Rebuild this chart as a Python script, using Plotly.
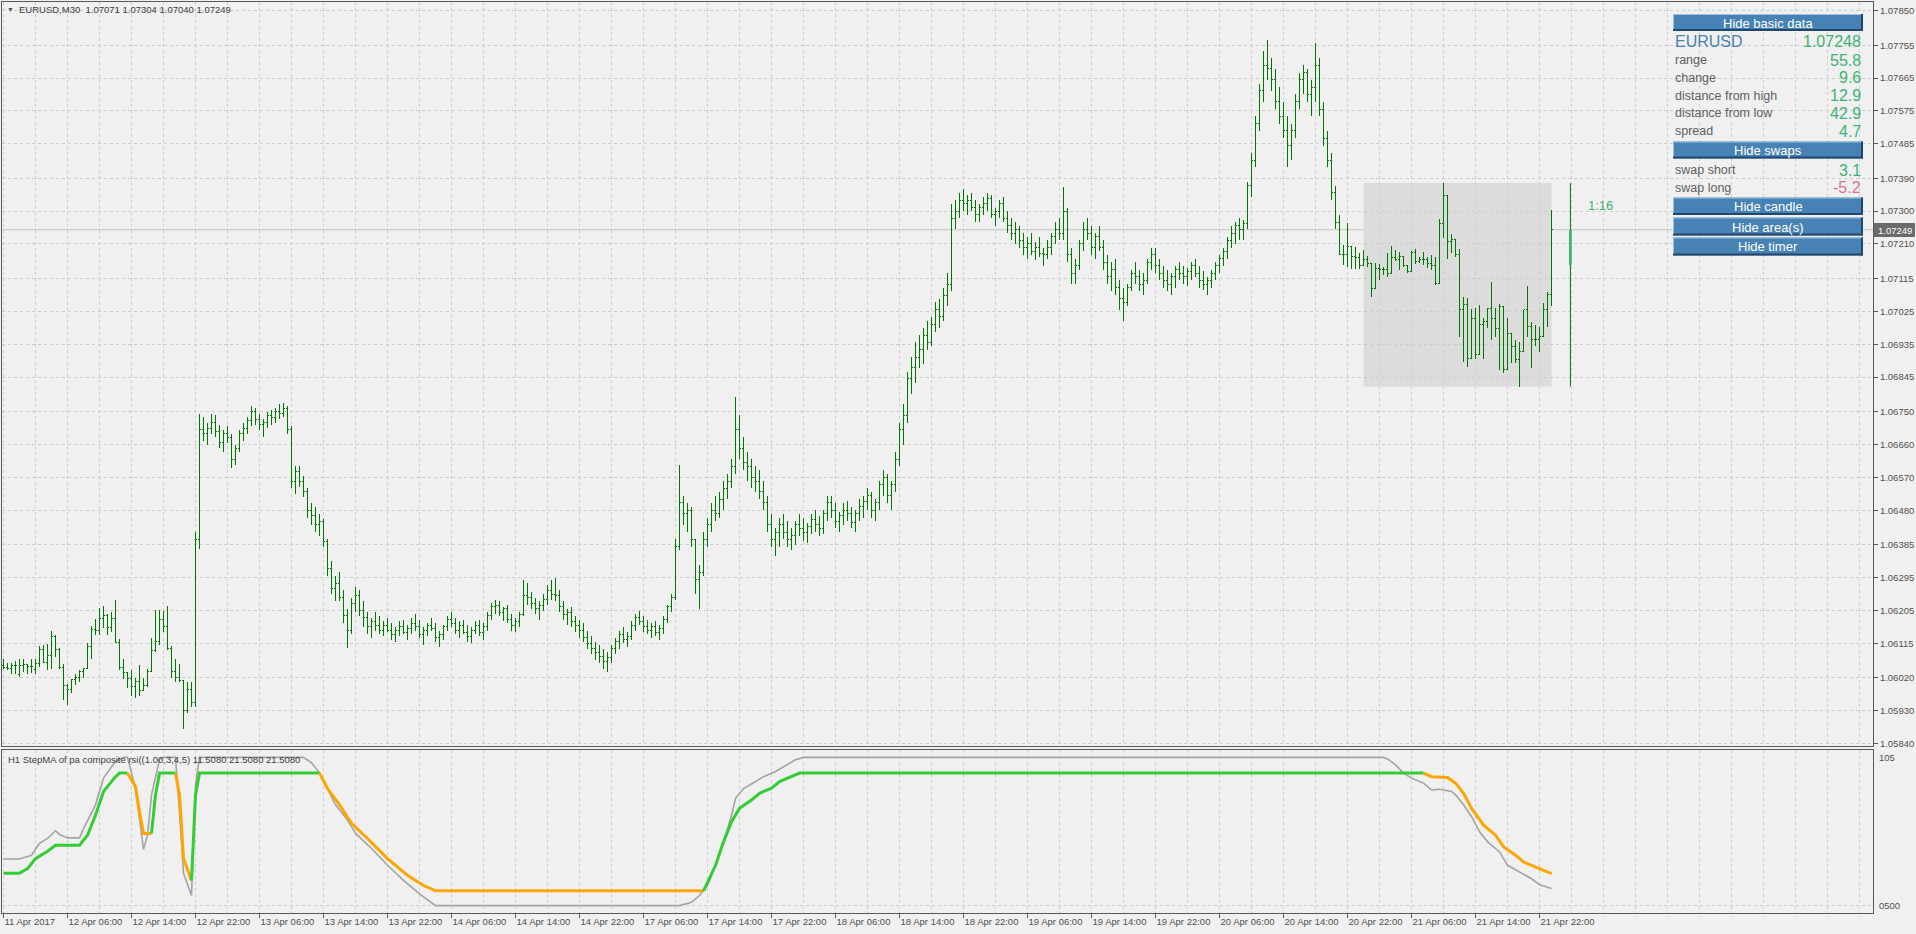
import plotly.graph_objects as go

# ---------------- data: EURUSD M30 bars, prices in points (0.00001) above 1.05000 ----------------
BASE = 1.05
PT = 0.00001

OPEN = [
    # 0-47
    1055,1048,1046,1054,1030,1055,1057,1051,1043,1060,1099,1062,1083,1135,1098,1048,1000,989,1016,1020,
    1039,1046,1105,1154,1149,1183,1191,1158,1183,1118,1049,1034,1019,996,1009,987,1000,1039,1094,1121,
    1181,1162,1101,1039,1020,1012,932,989,
    # 48-334
    953,1400,1700,1690,1705,1720,1695,1665,1690,1680,
    1620,1650,1690,1705,1725,1750,1730,1715,1720,1740,
    1735,1750,1745,1760,1700,1560,1585,1560,1530,1480,
    1465,1440,1450,1395,1320,1265,1280,1240,1190,1150,
    1225,1245,1205,1185,1160,1175,1165,1150,1165,1150,
    1140,1150,1160,1145,1155,1170,1160,1140,1150,1165,
    1155,1130,1140,1160,1180,1170,1150,1165,1145,1135,
    1150,1165,1145,1160,1190,1215,1220,1200,1210,1180,
    1165,1175,1195,1245,1240,1225,1210,1220,1235,1260,
    1250,1245,1215,1195,1200,1175,1165,1150,1130,1115,
    1100,1090,1080,1065,1075,1100,1120,1140,1125,1135,
    1165,1185,1175,1160,1150,1160,1145,1155,1180,1215,
    1240,1380,1500,1470,1480,1400,1290,1310,1400,1440,
    1480,1470,1510,1540,1560,1600,1700,1650,1610,1600,
    1570,1560,1530,1500,1440,1400,1420,1440,1420,1400,
    1410,1440,1430,1420,1435,1455,1440,1430,1470,1500,
    1480,1450,1465,1480,1470,1445,1470,1490,1505,1520,
    1480,1500,1550,1570,1520,1550,1620,1700,1740,1840,
    1870,1900,1920,1960,1940,1990,2030,2010,2070,2100,
    2280,2300,2330,2320,2330,2310,2290,2310,2320,2335,
    2290,2300,2320,2280,2260,2240,2250,2220,2200,2210,
    2190,2200,2185,2180,2200,2230,2250,2240,2300,2180,
    2130,2150,2210,2250,2240,2200,2230,2200,2160,2120,
    2140,2090,2060,2050,2090,2130,2120,2100,2110,2160,
    2180,2150,2130,2110,2100,2120,2140,2130,2120,2135,
    2150,2130,2110,2100,2110,2130,2150,2170,2190,2220,
    2240,2260,2250,2265,2370,2440,2540,2630,2700,2690,
    2660,2600,2560,2520,2480,2520,2600,2660,2680,2620,
    2640,2700,2580,2500,2440,2350,2270,
    # 335-387
    2180,2182,2203,2175,2173,2152,2168,2157,2088,2143,2139,2139,2130,2173,2168,2175,2150,2134,2186,2162,
    2168,2168,2157,2150,2102,2267,2342,2216,2221,2180,2031,2043,1897,2006,1906,1988,1997,2034,2006,1979,
    2038,1865,1965,1929,1892,1915,2029,1983,1947,1947,1956,2031,2071]

HIGH = [
    1073,1060,1062,1067,1072,1071,1058,1071,1072,1107,1110,1113,1148,1137,1101,1058,1004,1016,1032,1043,
    1048,1115,1162,1183,1211,1217,1195,1201,1235,1128,1072,1034,1041,1021,1055,1020,1046,1131,1206,1206,
    1203,1217,1107,1071,1058,1014,1008,1008,
    1420,1745,1735,1720,1745,1740,1715,1700,1710,1690,
    1660,1700,1720,1735,1765,1760,1745,1730,1750,1755,
    1760,1770,1775,1765,1710,1600,1600,1575,1540,1500,
    1490,1470,1455,1400,1340,1300,1310,1260,1210,1240,
    1270,1260,1230,1200,1185,1200,1190,1175,1185,1170,
    1160,1175,1180,1165,1185,1195,1180,1160,1170,1185,
    1170,1150,1165,1190,1200,1185,1175,1180,1165,1160,
    1175,1180,1170,1200,1225,1235,1230,1215,1220,1195,
    1185,1200,1290,1280,1255,1240,1230,1250,1275,1290,
    1295,1260,1230,1210,1215,1190,1180,1170,1150,1135,
    1120,1110,1100,1090,1110,1130,1150,1160,1145,1175,
    1195,1205,1190,1180,1170,1175,1165,1190,1220,1250,
    1400,1605,1520,1500,1490,1400,1330,1420,1460,1500,
    1520,1530,1560,1580,1620,1790,1740,1680,1640,1620,
    1600,1590,1560,1520,1470,1430,1460,1470,1450,1430,
    1450,1470,1460,1445,1470,1480,1465,1480,1520,1520,
    1500,1475,1500,1505,1490,1480,1510,1520,1540,1530,
    1510,1560,1590,1580,1560,1640,1720,1770,1860,1900,
    1940,1960,1980,2000,2010,2050,2060,2090,2130,2320,
    2330,2350,2360,2345,2350,2330,2320,2340,2350,2345,
    2310,2330,2340,2300,2280,2270,2260,2240,2230,2240,
    2215,2230,2200,2220,2240,2270,2280,2365,2310,2200,
    2170,2220,2270,2280,2260,2240,2260,2220,2180,2160,
    2170,2110,2090,2100,2140,2160,2140,2130,2170,2200,
    2200,2170,2150,2140,2130,2150,2160,2150,2145,2160,
    2170,2150,2135,2120,2140,2160,2180,2200,2230,2260,
    2270,2280,2275,2380,2460,2560,2650,2740,2770,2720,
    2690,2640,2600,2560,2540,2620,2680,2700,2690,2660,
    2760,2720,2600,2520,2460,2370,2290,
    2207,2267,2205,2203,2184,2194,2177,2157,2159,2154,2148,2184,2205,2194,2189,2175,2150,2191,2195,2175,
    2189,2175,2180,2175,2278,2377,2342,2237,2221,2195,2066,2063,2031,2035,2043,2006,2034,2107,2034,2046,
    2038,2006,1965,1947,1942,2029,2095,1997,1988,1983,2047,2079,2304]

LOW = [
    1046,1043,1032,1030,1023,1037,1032,1034,1032,1051,1062,1041,1046,1078,1046,961,946,979,1000,1009,
    1019,1046,1073,1137,1137,1158,1137,1147,1117,1043,1016,993,971,966,971,985,996,1037,1090,1110,
    1147,1098,1019,1009,1009,881,925,941,
    941,1375,1670,1660,1690,1680,1650,1640,1665,1595,
    1605,1640,1670,1690,1710,1715,1700,1680,1705,1715,
    1720,1730,1735,1690,1540,1525,1545,1515,1460,1440,
    1420,1410,1380,1300,1250,1230,1230,1170,1103,1140,
    1200,1190,1160,1140,1130,1150,1140,1135,1145,1125,
    1120,1135,1140,1125,1140,1150,1130,1110,1135,1150,
    1120,1105,1125,1150,1160,1140,1130,1140,1120,1115,
    1140,1135,1125,1150,1180,1195,1190,1175,1170,1150,
    1145,1160,1190,1220,1210,1195,1180,1205,1220,1235,
    1230,1200,1180,1165,1160,1145,1130,1120,1100,1085,
    1070,1060,1045,1036,1060,1085,1100,1115,1105,1125,
    1150,1165,1145,1140,1130,1135,1125,1140,1170,1200,
    1235,1370,1440,1420,1380,1250,1210,1300,1380,1420,
    1450,1460,1480,1510,1540,1580,1620,1590,1560,1540,
    1530,1510,1480,1420,1380,1355,1380,1400,1380,1370,
    1385,1410,1395,1390,1415,1420,1410,1415,1450,1460,
    1430,1420,1440,1450,1430,1420,1450,1460,1480,1460,
    1450,1480,1520,1500,1480,1530,1600,1660,1720,1800,
    1830,1870,1880,1920,1930,1970,1980,2000,2040,2080,
    2250,2280,2300,2290,2300,2270,2270,2290,2300,2280,
    2260,2280,2270,2240,2220,2210,2200,2180,2170,2180,
    2165,2175,2150,2170,2180,2210,2220,2220,2160,2100,
    2100,2140,2190,2220,2180,2170,2190,2140,2100,2080,
    2070,2030,2000,2040,2080,2100,2080,2070,2100,2140,
    2130,2110,2090,2080,2070,2090,2110,2100,2095,2110,
    2120,2090,2085,2070,2090,2110,2130,2150,2170,2200,
    2210,2220,2220,2250,2340,2420,2520,2600,2660,2630,
    2580,2540,2500,2420,2440,2500,2580,2620,2600,2560,
    2600,2560,2480,2420,2330,2250,2180,
    2152,2148,2141,2141,2141,2150,2146,2066,2088,2111,2125,2119,2128,2162,2139,2148,2130,2134,2155,2157,
    2152,2143,2139,2098,2102,2226,2168,2186,2173,1954,1887,1874,1897,1894,1906,1894,1979,1947,1956,1865,
    1855,1865,1885,1883,1819,1915,1956,1869,1929,1915,1956,1983,2040]

CLOSE = [
    1048,1046,1054,1054,1055,1057,1051,1051,1060,1099,1062,1083,1135,1098,1048,1000,989,1016,1020,1039,
    1046,1105,1154,1149,1183,1191,1158,1183,1118,1049,1034,1019,996,1009,987,1000,1039,1094,1121,1181,
    1162,1101,1039,1020,1012,932,989,953,
    1400,1700,1690,1705,1720,1695,1665,1690,1680,1620,
    1650,1690,1705,1725,1750,1730,1715,1720,1740,1735,
    1750,1745,1760,1700,1560,1585,1560,1530,1480,1465,
    1440,1450,1395,1320,1265,1280,1240,1190,1150,1225,
    1245,1205,1185,1160,1175,1165,1150,1165,1150,1140,
    1150,1160,1145,1155,1170,1160,1140,1150,1165,1155,
    1130,1140,1160,1180,1170,1150,1165,1145,1135,1150,
    1165,1145,1160,1190,1215,1220,1200,1210,1180,1165,
    1175,1195,1245,1240,1225,1210,1220,1235,1260,1250,
    1245,1215,1195,1200,1175,1165,1150,1130,1115,1100,
    1090,1080,1065,1075,1100,1120,1140,1125,1135,1165,
    1185,1175,1160,1150,1160,1145,1155,1180,1215,1240,
    1380,1500,1470,1480,1400,1290,1310,1400,1440,1480,
    1470,1510,1540,1560,1600,1700,1650,1610,1600,1570,
    1560,1530,1500,1440,1400,1420,1440,1420,1400,1410,
    1440,1430,1420,1435,1455,1440,1430,1470,1500,1480,
    1450,1465,1480,1470,1445,1470,1490,1505,1520,1480,
    1500,1550,1570,1520,1550,1620,1700,1740,1840,1870,
    1900,1920,1960,1940,1990,2030,2010,2070,2100,2280,
    2300,2330,2320,2330,2310,2290,2310,2320,2335,2290,
    2300,2320,2280,2260,2240,2250,2220,2200,2210,2190,
    2200,2185,2180,2200,2230,2250,2240,2300,2180,2130,
    2150,2210,2250,2240,2200,2230,2200,2160,2120,2140,
    2090,2060,2050,2090,2130,2120,2100,2110,2160,2180,
    2150,2130,2110,2100,2120,2140,2130,2120,2135,2150,
    2130,2110,2100,2110,2130,2150,2170,2190,2220,2240,
    2260,2250,2265,2370,2440,2540,2630,2700,2690,2660,
    2600,2560,2520,2480,2520,2600,2660,2680,2620,2640,
    2700,2580,2500,2440,2350,2270,2180,
    2182,2203,2175,2173,2152,2168,2157,2088,2143,2139,2139,2130,2173,2168,2175,2150,2134,2186,2162,2168,
    2168,2157,2150,2102,2267,2342,2216,2221,2180,2031,2043,1897,2006,1906,1988,1997,2034,2006,1979,2038,
    1865,1965,1929,1892,1915,2029,1983,1947,1947,1956,2031,2071,2249]

# daily candle / area (21 Apr)
DAY_OPEN, DAY_HIGH, DAY_LOW, DAY_CLOSE = 1.07152, 1.07377, 1.06819, 1.07248
DAY_FIRST_BAR, DAY_LAST_BAR = 340, 387
CANDLE_BAR = 391.7
CURRENT_PRICE = 1.07249

# indicator: composite rsi (gray) and step MA (green / orange)
RSI_X = [0,4,7,9,11,13,14,16,19,20,23,25,28,30,31,33,35,36,37,39,40,43,44,45,47,48,49,75,77,79,
         81,83,86,88,92,96,100,104,108,169,172,174,176,178,180,182,183,185,188,190,193,196,198,200,345,346,348,350,352,355,
         357,359,362,363,365,367,369,371,374,376,379,382,384,387]
RSI_Y = [31.4,31.4,34,42,45.3,50.5,48,45.7,45.7,52,68,86,97.3,100,100,79,38,47.5,74.7,98.4,100,100,63,21.7,6.8,81.5,100,100,96.4,89.6,
         79,68,57.7,48.7,38.5,27.2,17,7.9,0,0,2.3,6.8,13.6,27,43,61,72.4,79,83.7,87,90.5,95,98.4,100,100,99,95,89.4,86,82.6,
         78,78.5,77,74.7,68,60,49.8,43,36.2,27.2,22.6,18.1,14,11.508]
STEP_X = [0,4,6,8,11,13,19,21,23,25,28,29,31,33,34,35,37,38,39,43,44,45,47,48,49,79,
          81,84,87,91,96,101,105,108,175,176,178,180,182,184,187,189,192,194,197,199,355,
          357,361,363,365,367,370,373,375,378,380,383,387]
STEP_Y = [21.9,21.9,24.9,31.7,36.7,40.7,40.7,47.5,61,77,87,89.4,89.4,80.3,63.3,48.7,48.7,74.7,89.4,89.4,74.7,31.7,17,74.7,89.4,89.4,
          79,68,55.5,45.3,31.7,20.4,13.6,10,10,15.8,27.2,43,56.6,65.6,71.3,75.8,79.2,83.7,87,89.4,89.4,
          87,86.5,82.6,75.8,65.6,54.3,47.5,39.6,34,29.4,26,21.508]
STEP_TREND = "ggggggggggggg" + "oooo" + "ggg" + "ooo" + "ggg" + "ooooooooo" + "gggggggggggg" + "oooooooooooo"

# axes
PRICE_TICKS = [1.07850,1.07755,1.07665,1.07575,1.07485,1.07390,1.07300,1.07210,1.07115,1.07025,1.06935,1.06845,
               1.06750,1.06660,1.06570,1.06480,1.06385,1.06295,1.06205,1.06115,1.06020,1.05930,1.05840]
TIME_LABELS = ["11 Apr 2017","12 Apr 06:00","12 Apr 14:00","12 Apr 22:00","13 Apr 06:00","13 Apr 14:00","13 Apr 22:00",
               "14 Apr 06:00","14 Apr 14:00","14 Apr 22:00","17 Apr 06:00","17 Apr 14:00","17 Apr 22:00","18 Apr 06:00",
               "18 Apr 14:00","18 Apr 22:00","19 Apr 06:00","19 Apr 14:00","19 Apr 22:00","20 Apr 06:00","20 Apr 14:00",
               "20 Apr 22:00","21 Apr 06:00","21 Apr 14:00","21 Apr 22:00"]
TIME_LABEL_BARS = [0,16,32,48,64,80,96,112,128,144,160,176,192,208,224,240,256,272,288,304,320,336,352,368,384]
GRID_BARS = list(range(0, 468, 8))

# ---------------- layout geometry (pixels) ----------------
W, H = 1916, 934
PL, PR, PT_, PB = 2, 1873, 2, 913
MAIN_BOTTOM, IND_TOP = 746, 750
FONT = "Liberation Sans, Arial, sans-serif"
AXC = "#5a5a5a"
GRIDC = "#cdcdcd"
BAR_GREEN = "#007800"
SEA = "#3CB371"


def fx(px):
    return (px - PL) / (PR - PL)


def fy(py):
    return (PB - py) / (PB - PT_)


def price(v):
    return BASE + v * PT


fig = go.Figure()

fig.add_trace(go.Ohlc(
    x=list(range(len(OPEN))),
    open=[price(v) for v in OPEN], high=[price(v) for v in HIGH],
    low=[price(v) for v in LOW], close=[price(v) for v in CLOSE],
    increasing=dict(line=dict(color=BAR_GREEN, width=1)),
    decreasing=dict(line=dict(color=BAR_GREEN, width=1)),
    tickwidth=0.3, hoverinfo="skip", xaxis="x", yaxis="y", showlegend=False))

# indicator
fig.add_trace(go.Scatter(x=RSI_X, y=RSI_Y, mode="lines", line=dict(color="#a3a3a3", width=1.6),
                         xaxis="x2", yaxis="y2", hoverinfo="skip", showlegend=False))
runs = []
cur = None
for i, t in enumerate(STEP_TREND):
    if cur is None or t != cur[0]:
        prev = [i - 1] if i > 0 else []
        cur = [t, prev + [i]]
        runs.append(cur)
    else:
        cur[1].append(i)
for t, idxs in runs:
    fig.add_trace(go.Scatter(x=[STEP_X[k] for k in idxs], y=[STEP_Y[k] for k in idxs], mode="lines",
                             line=dict(color="#32CD32" if t == "g" else "#FFA500", width=3),
                             xaxis="x2", yaxis="y2", hoverinfo="skip", showlegend=False))

shapes = []
# daily area
shapes.append(dict(type="rect", xref="x", yref="y", x0=DAY_FIRST_BAR, x1=DAY_LAST_BAR, y0=DAY_LOW, y1=DAY_HIGH,
                   fillcolor="#dcdcdc", line=dict(width=0), layer="below"))
# current price line
shapes.append(dict(type="line", xref="paper", yref="y", x0=0, x1=1, y0=CURRENT_PRICE, y1=CURRENT_PRICE,
                   line=dict(color="#c4c4c4", width=1), layer="below"))
# daily candle
shapes.append(dict(type="line", xref="x", yref="y", x0=CANDLE_BAR, x1=CANDLE_BAR, y0=DAY_LOW, y1=DAY_HIGH,
                   line=dict(color=BAR_GREEN, width=1)))
shapes.append(dict(type="rect", xref="x", yref="y", x0=CANDLE_BAR - 0.35, x1=CANDLE_BAR + 0.35, y0=DAY_OPEN,
                   y1=DAY_CLOSE, fillcolor=SEA, line=dict(width=0)))
# current price label box
shapes.append(dict(type="rect", xref="paper", yref="paper", x0=fx(1874), x1=fx(1915), y0=fy(237), y1=fy(223),
                   fillcolor="#6b6b6b", line=dict(width=0)))

annotations = []
annotations.append(dict(xref="paper", yref="paper", x=fx(1894.5), y=fy(230), text="1.07249", showarrow=False,
                        font=dict(family=FONT, size=9.5, color="white"), xanchor="center", yanchor="middle"))

# buttons
BTN_X0, BTN_X1 = 1673, 1863
BUTTONS = [("Hide basic data", 14, 31), ("Hide swaps", 141.5, 158.5), ("Hide candle", 197.5, 215),
           ("Hide area(s)", 217.5, 235.5), ("Hide timer", 237.5, 255.5)]
for label, t0, t1 in BUTTONS:
    shapes.append(dict(type="rect", xref="paper", yref="paper", x0=fx(BTN_X0), x1=fx(BTN_X1), y0=fy(t1), y1=fy(t0),
                       fillcolor="#4682B4", line=dict(width=0)))
    shapes.append(dict(type="line", xref="paper", yref="paper", x0=fx(BTN_X0), x1=fx(BTN_X1), y0=fy(t0 + 0.5),
                       y1=fy(t0 + 0.5), line=dict(color="#9fc0dc", width=1)))
    shapes.append(dict(type="line", xref="paper", yref="paper", x0=fx(BTN_X0 + 0.5), x1=fx(BTN_X0 + 0.5), y0=fy(t1),
                       y1=fy(t0), line=dict(color="#9fc0dc", width=1)))
    shapes.append(dict(type="line", xref="paper", yref="paper", x0=fx(BTN_X0), x1=fx(BTN_X1), y0=fy(t1 - 1),
                       y1=fy(t1 - 1), line=dict(color="#23476a", width=2)))
    shapes.append(dict(type="line", xref="paper", yref="paper", x0=fx(BTN_X1 - 1), x1=fx(BTN_X1 - 1), y0=fy(t1),
                       y1=fy(t0), line=dict(color="#23476a", width=2)))
    annotations.append(dict(xref="paper", yref="paper", x=fx((BTN_X0 + BTN_X1) / 2), y=fy((t0 + t1) / 2 + 0.5),
                            text=label, showarrow=False, font=dict(family=FONT, size=13, color="white"),
                            xanchor="center", yanchor="middle"))

INFO_ROWS = [("EURUSD", "1.07248", 41.7, "#4682B4", SEA, 16, 16),
             ("range", "55.8", 60, "#5f5f5f", SEA, 12.5, 16),
             ("change", "9.6", 77.7, "#5f5f5f", SEA, 12.5, 16),
             ("distance from high", "12.9", 95.7, "#5f5f5f", SEA, 12.5, 16),
             ("distance from low", "42.9", 113.3, "#5f5f5f", SEA, 12.5, 16),
             ("spread", "4.7", 131, "#5f5f5f", SEA, 12.5, 16),
             ("swap short", "3.1", 170, "#5f5f5f", SEA, 12.5, 16),
             ("swap long", "-5.2", 187.7, "#5f5f5f", "#DB7093", 12.5, 16)]
for lab, val, yy, c1, c2, s1, s2 in INFO_ROWS:
    annotations.append(dict(xref="paper", yref="paper", x=fx(BTN_X0), y=fy(yy), text=lab, showarrow=False,
                            font=dict(family=FONT, size=s1, color=c1), xanchor="left", yanchor="middle"))
    annotations.append(dict(xref="paper", yref="paper", x=fx(BTN_X1), y=fy(yy), text=val, showarrow=False,
                            font=dict(family=FONT, size=s2, color=c2), xanchor="right", yanchor="middle"))

# timer
annotations.append(dict(xref="paper", yref="paper", x=fx(1600), y=fy(205), text="1:16", showarrow=False,
                        font=dict(family=FONT, size=13, color=SEA), xanchor="center", yanchor="middle"))
# titles
annotations.append(dict(xref="paper", yref="paper", x=fx(5), y=fy(10), text="▼", showarrow=False,
                        font=dict(family=FONT, size=7, color="#555555"), xanchor="left", yanchor="middle"))
annotations.append(dict(xref="paper", yref="paper", x=fx(17), y=fy(10),
                        text="EURUSD,M30  1.07071 1.07304 1.07040 1.07249", showarrow=False,
                        font=dict(family=FONT, size=9.5, color="#3c3c3c"), xanchor="left", yanchor="middle"))
annotations.append(dict(xref="paper", yref="paper", x=fx(6), y=fy(759),
                        text="H1 StepMA of pa composite rsi((1.00,3,4,5) 11.5080 21.5080 21.5080", showarrow=False,
                        font=dict(family=FONT, size=9.5, color="#3c3c3c"), xanchor="left", yanchor="middle"))
# indicator scale labels
annotations.append(dict(xref="paper", yref="paper", x=fx(1877), y=fy(757), text="105", showarrow=False,
                        font=dict(family=FONT, size=9.5, color="#505050"), xanchor="left", yanchor="middle"))
annotations.append(dict(xref="paper", yref="paper", x=fx(1877), y=fy(905), text="0500", showarrow=False,
                        font=dict(family=FONT, size=9.5, color="#505050"), xanchor="left", yanchor="middle"))

main_dom = [fy(MAIN_BOTTOM), 1]
ind_dom = [0, fy(IND_TOP)]
X_RANGE = [-0.375, 467.35]
Y_RANGE = [1.058335, 1.078735]

grid_common = dict(showgrid=True, gridcolor=GRIDC, griddash="3px,3px", gridwidth=1)

fig.update_layout(
    width=W, height=H, margin=dict(l=PL, r=W - PR, t=PT_, b=H - PB),
    paper_bgcolor="#f0f0f0", plot_bgcolor="#f0f0f0", showlegend=False,
    font=dict(family=FONT, size=9.5, color="#505050"),
    shapes=shapes, annotations=annotations, hovermode=False,
    xaxis=dict(domain=[0, 1], anchor="y", range=X_RANGE, tickvals=TIME_LABEL_BARS, showticklabels=False,
               ticks="", showline=True, mirror=True, linecolor=AXC, linewidth=1, zeroline=False,
               rangeslider=dict(visible=False),
               minor=dict(tickvals=GRID_BARS, **grid_common), **grid_common),
    yaxis=dict(domain=main_dom, anchor="x", side="right", range=Y_RANGE, tickvals=PRICE_TICKS,
               ticktext=[f"{v:.5f}" for v in PRICE_TICKS], ticks="outside", ticklen=4, tickcolor=AXC,
               showline=True, mirror=True, linecolor=AXC, linewidth=1, zeroline=False,
               tickfont=dict(family=FONT, size=9.5, color="#505050"), **grid_common),
    xaxis2=dict(domain=[0, 1], anchor="y2", range=X_RANGE, matches="x", tickvals=TIME_LABEL_BARS,
                ticktext=TIME_LABELS, ticks="outside", ticklen=4, tickcolor=AXC, ticklabelposition="outside right",
                showline=True, mirror=True, linecolor=AXC, linewidth=1, zeroline=False,
                tickfont=dict(family=FONT, size=9.5, color="#505050"),
                minor=dict(tickvals=GRID_BARS, **grid_common), **grid_common),
    yaxis2=dict(domain=ind_dom, anchor="x2", side="right", range=[-5, 105], tickvals=[0], showticklabels=False,
                ticks="", showline=True, mirror=True, linecolor=AXC, linewidth=1, zeroline=False, **grid_common),
)

fig.write_html("out.html", config={"displayModeBar": False},
               post_script=("document.body.style.margin='0';document.body.style.overflow='hidden';"
                            "document.querySelectorAll('.ohlc path').forEach(function(p){"
                            "p.style.shapeRendering='crispEdges';});"))
